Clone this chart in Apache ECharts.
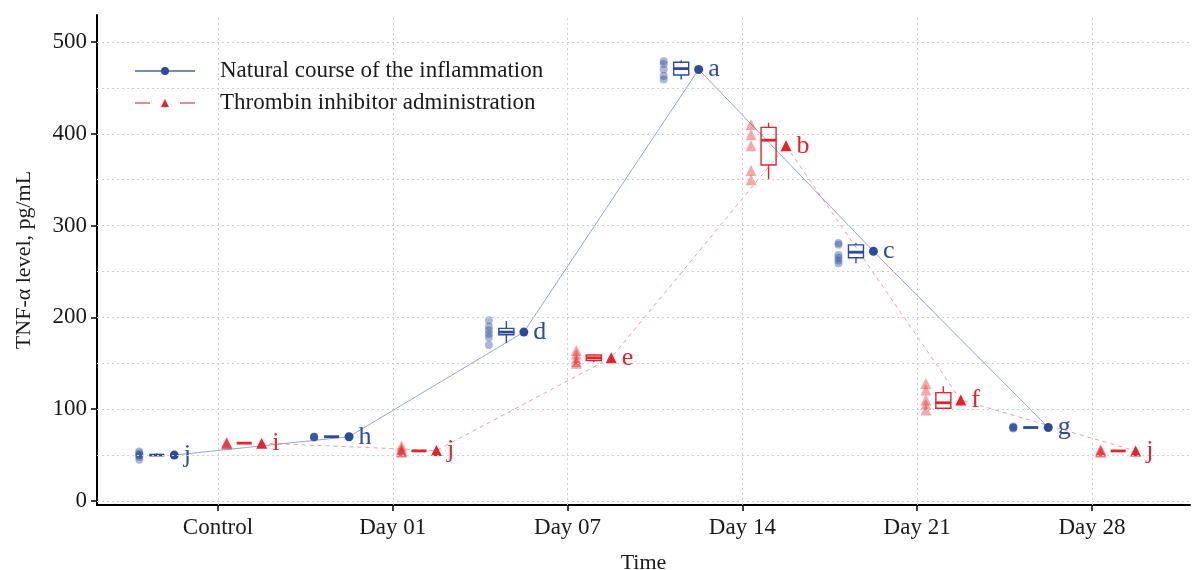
<!DOCTYPE html>
<html>
<head>
<meta charset="utf-8">
<script src="https://cdn.jsdelivr.net/npm/echarts@6/dist/echarts.min.js"></script>
<style>
html,body{margin:0;padding:0;background:#fff;}
#chart{width:1192px;height:570px;}
</style>
</head>
<body>
<div id="chart"></div>
<script>
// ---------- data ----------
const categories = ['Control', 'Day 01', 'Day 07', 'Day 14', 'Day 21', 'Day 28'];
const yTicks = [0, 100, 200, 300, 400, 500];
const seriesNames = ['Natural course of the inflammation', 'Thrombin inhibitor administration'];

// raw observations (per category)
const naturalRaw = [
  [45, 48, 50, 50, 52, 54],
  [69, 69, 70, 70, 70],
  [170, 178, 182, 186, 190, 197],
  [459, 463, 470, 476, 479],
  [259, 262, 265, 268, 279, 281],
  [79, 80, 80, 80, 81]
];
const thrombinRaw = [
  [62, 63, 63, 64],
  [53, 54, 55, 57, 60],
  [150, 152, 155, 160, 164],
  [350, 360, 387, 399, 410],
  [99, 105, 110, 121, 128],
  [53, 54, 55, 56]
];
// box statistics: [min, Q1, median, Q3, max]
const naturalBox = [
  [50, 50, 50, 50, 52],
  [69.7, 70, 70, 70, 70.3],
  [172, 181, 184, 188, 196],
  [459, 464, 471, 478, 480],
  [259, 265, 271, 279, 281],
  [80, 80, 80, 80, 80]
];
const thrombinBox = [
  [63, 63, 63, 63, 63],
  [54.5, 54.5, 54.5, 54.5, 54.5],
  [151, 153, 156, 159, 160],
  [350, 366, 393, 407, 412],
  [99, 101, 107, 118, 125],
  [54.5, 54.5, 54.5, 54.5, 54.5]
];
// group means and significance letters
const naturalMean = [50, 70, 184, 470, 272, 80];
const thrombinMean = [63, 55, 156, 387, 110, 54.5];
const naturalLetters = ['j', 'h', 'd', 'a', 'c', 'g'];
const thrombinLetters = ['i', 'j', 'e', 'b', 'f', 'j'];

// ---------- styling / layout ----------
const BLUE = '#2a4b9e';
const RED = '#e8222b';
const FONT = 'Liberation Serif, Times New Roman, serif';
const OFF = { natural: { pts: -0.45, box: -0.35, mean: -0.25 }, thrombin: { pts: 0.05, box: 0.15, mean: 0.25 } };
const BOX_HALF = 0.043;

function rawData(raw, off) {
  const out = [];
  raw.forEach((vals, i) => vals.forEach(v => out.push([i + 1 + off, v])));
  return out;
}
function boxData(box, off) {
  return box.map((b, i) => [i + 1 + off].concat(b));
}
function meanData(mean, off) {
  return mean.map((m, i) => [i + 1 + off, m]);
}
function boxRenderer(color) {
  return function (params, api) {
    const x = api.value(0);
    const pMin = api.coord([x, api.value(1)]);
    const pQ1 = api.coord([x, api.value(2)]);
    const pMed = api.coord([x, api.value(3)]);
    const pQ3 = api.coord([x, api.value(4)]);
    const pMax = api.coord([x, api.value(5)]);
    const l = api.coord([x - BOX_HALF, 0])[0];
    const r = api.coord([x + BOX_HALF, 0])[0];
    const st = { stroke: color, lineWidth: 1.4, fill: null };
    const children = [];
    if (pMax[1] < pQ3[1] - 0.5) children.push({ type: 'line', shape: { x1: pQ3[0], y1: pQ3[1], x2: pMax[0], y2: pMax[1] }, style: st });
    if (pMin[1] > pQ1[1] + 0.5) children.push({ type: 'line', shape: { x1: pQ1[0], y1: pQ1[1], x2: pMin[0], y2: pMin[1] }, style: st });
    if (pQ1[1] - pQ3[1] > 0.5) children.push({ type: 'rect', shape: { x: l, y: pQ3[1], width: r - l, height: pQ1[1] - pQ3[1] }, style: st });
    children.push({ type: 'line', shape: { x1: l, y1: pMed[1], x2: r, y2: pMed[1] }, style: { stroke: color, lineWidth: 2.8 } });
    return { type: 'group', children: children };
  };
}

const gridLines = [];
for (let v = 0; v <= 500; v += 50) gridLines.push({ yAxis: v });
categories.forEach((c, i) => gridLines.push({ xAxis: i + 1 }));

const option = {
  animation: false,
  backgroundColor: '#fff',
  grid: { left: 97, right: 2, top: 15, bottom: 65, containLabel: false, outerBoundsMode: 'none' },
  legend: {
    orient: 'vertical', left: 129, top: 54,
    itemWidth: 60, itemHeight: 10, itemGap: 8,
    textStyle: { fontFamily: FONT, fontSize: 23, color: '#1a1a1a', padding: [0, 0, 0, 20], lineHeight: 24 },
    data: [
      { name: seriesNames[0], lineStyle: { color: 'rgba(42,75,158,0.65)', width: 2, type: 'solid' } },
      { name: seriesNames[1], lineStyle: { color: 'rgba(232,34,43,0.55)', width: 2, type: [15, 30] } }
    ]
  },
  xAxis: {
    type: 'value', min: 0.308, max: 6.561,
    axisLine: { show: true, onZero: false, lineStyle: { color: '#000', width: 2 } },
    axisTick: { show: true, length: 6, customValues: [1, 2, 3, 4, 5, 6], lineStyle: { color: '#000', width: 1.5 } },
    axisLabel: { customValues: [1, 2, 3, 4, 5, 6], formatter: v => categories[Math.round(v) - 1] || '', fontFamily: FONT, fontSize: 23, color: '#1a1a1a', margin: 11 },
    splitLine: { show: false },
    name: 'Time', nameLocation: 'middle', nameGap: 47,
    nameTextStyle: { fontFamily: FONT, fontSize: 22, color: '#1a1a1a' }
  },
  yAxis: {
    type: 'value', min: -4.4, max: 529.4,
    axisLine: { show: true, onZero: false, lineStyle: { color: '#000', width: 2 } },
    axisTick: { show: true, length: 6, customValues: yTicks, lineStyle: { color: '#000', width: 1.5 } },
    axisLabel: { customValues: yTicks, fontFamily: FONT, fontSize: 23, color: '#1a1a1a', margin: 10 },
    splitLine: { show: false },
    name: 'TNF-α level, pg/mL', nameLocation: 'middle', nameGap: 62,
    nameTextStyle: { fontFamily: FONT, fontSize: 22, color: '#1a1a1a' }
  },
  series: [
    {
      type: 'scatter', data: [], silent: true, z: 0,
      markLine: {
        silent: true, symbol: 'none', animation: false,
        label: { show: false },
        lineStyle: { color: '#cfcfcf', width: 1, type: [2, 3] },
        data: gridLines
      }
    },
    {
      type: 'scatter', data: rawData(naturalRaw, OFF.natural.pts), symbol: 'circle', symbolSize: 8,
      itemStyle: { color: BLUE, opacity: 0.4 }, z: 2, silent: true
    },
    {
      type: 'scatter', data: rawData(thrombinRaw, OFF.thrombin.pts), symbol: 'triangle', symbolSize: 11,
      itemStyle: { color: RED, opacity: 0.4 }, z: 2, silent: true
    },
    {
      type: 'custom', data: boxData(naturalBox, OFF.natural.box), renderItem: boxRenderer(BLUE),
      encode: { x: 0, y: [1, 2, 3, 4, 5] }, z: 3, silent: true
    },
    {
      type: 'custom', data: boxData(thrombinBox, OFF.thrombin.box), renderItem: boxRenderer(RED),
      encode: { x: 0, y: [1, 2, 3, 4, 5] }, z: 3, silent: true
    },
    {
      name: seriesNames[0], type: 'line', data: meanData(naturalMean, OFF.natural.mean),
      symbol: 'circle', symbolSize: 9, showSymbol: true,
      itemStyle: { color: BLUE },
      lineStyle: { color: 'rgba(42,75,158,0.5)', width: 1 },
      label: { show: true, position: 'right', distance: 5, formatter: p => naturalLetters[p.dataIndex], fontFamily: FONT, fontSize: 26, color: BLUE },
      z: 4
    },
    {
      name: seriesNames[1], type: 'line', data: meanData(thrombinMean, OFF.thrombin.mean),
      symbol: 'triangle', symbolSize: 11, showSymbol: true,
      itemStyle: { color: RED },
      lineStyle: { color: 'rgba(232,34,43,0.45)', width: 1, type: [4, 4] },
      label: { show: true, position: 'right', distance: 5, formatter: p => thrombinLetters[p.dataIndex], fontFamily: FONT, fontSize: 26, color: RED },
      z: 4
    }
  ]
};

const chart = echarts.init(document.getElementById('chart'), null, { renderer: 'canvas' });
chart.setOption(option);
</script>
</body>
</html>
